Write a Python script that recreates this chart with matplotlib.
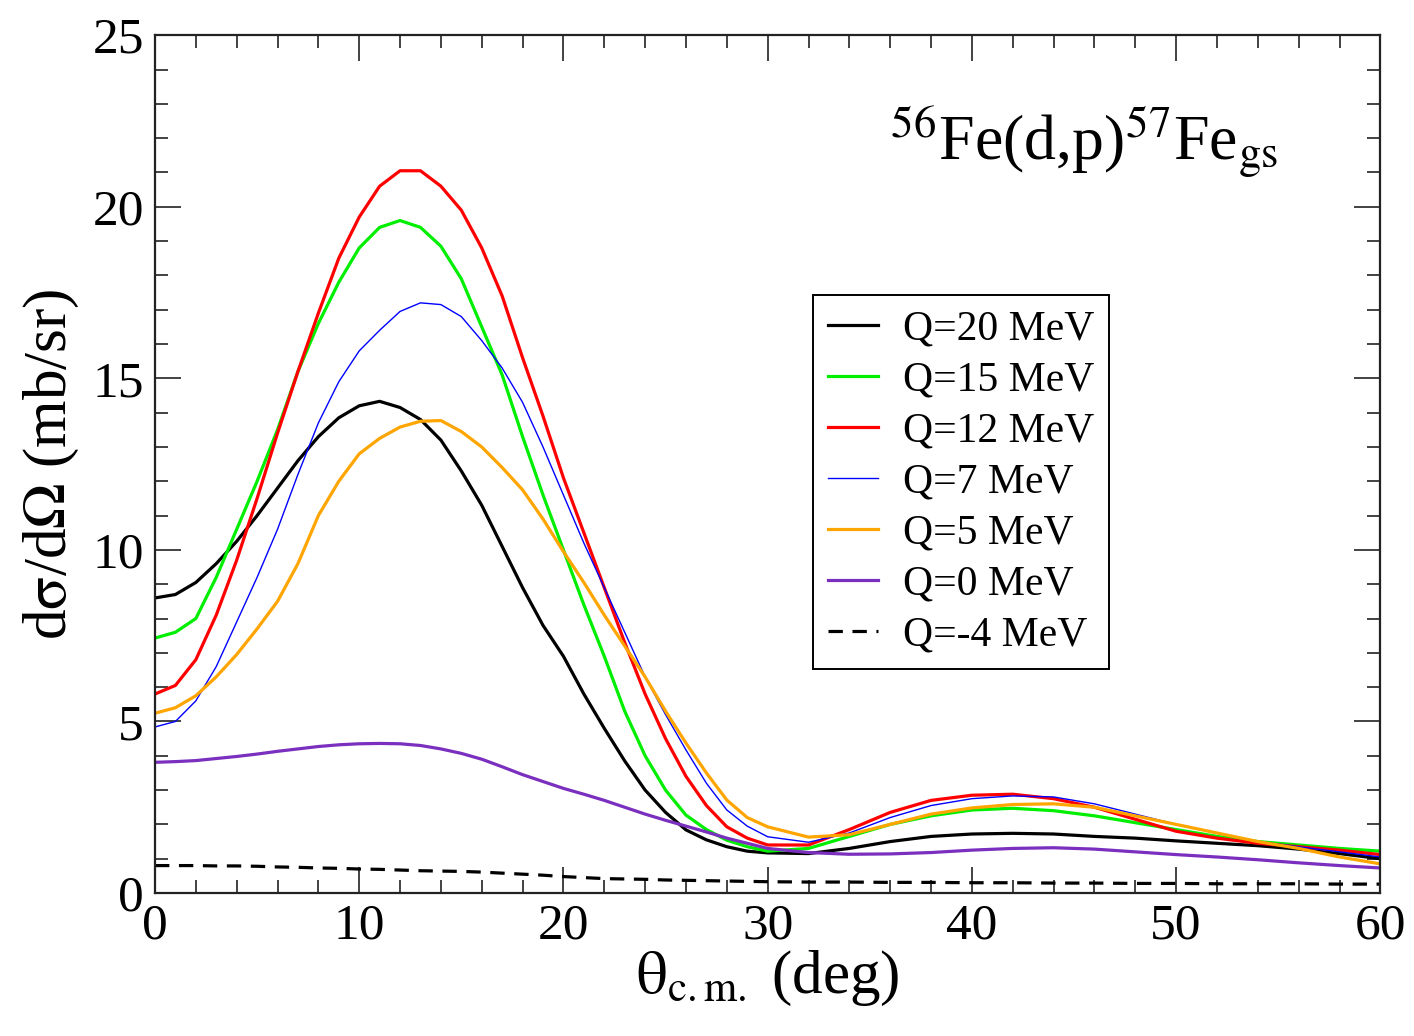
import matplotlib
matplotlib.use("Agg")
import matplotlib.pyplot as plt
from matplotlib.ticker import MultipleLocator

plt.rcParams['font.family'] = ['Liberation Serif', 'DejaVu Serif']
plt.rcParams['mathtext.fontset'] = 'stix'

# angles (deg)
theta = [0, 1, 2, 3, 4, 5, 6, 7, 8, 9, 10, 11, 12, 13, 14, 15, 16, 17, 18, 19, 20,
         21, 22, 23, 24, 25, 26, 27, 28, 29, 30, 32, 34, 36, 38, 40, 42, 44, 46, 48,
         50, 52, 54, 56, 58, 60]

q20 = [8.6, 8.7, 9.05, 9.6, 10.25, 11.0, 11.8, 12.6, 13.3, 13.85, 14.2, 14.33, 14.15,
       13.8, 13.2, 12.3, 11.3, 10.1, 8.9, 7.8, 6.9, 5.8, 4.8, 3.85, 3.0, 2.35, 1.84,
       1.55, 1.35, 1.22, 1.17, 1.15, 1.3, 1.5, 1.65, 1.72, 1.74, 1.72, 1.65, 1.6, 1.52,
       1.45, 1.38, 1.28, 1.15, 1.0]
q15 = [7.43, 7.6, 8.0, 9.2, 10.6, 12.0, 13.5, 15.2, 16.6, 17.8, 18.8, 19.4, 19.6, 19.4,
       18.85, 17.9, 16.5, 15.1, 13.3, 11.6, 10.0, 8.4, 6.9, 5.3, 4.0, 3.0, 2.27, 1.85,
       1.54, 1.35, 1.22, 1.3, 1.65, 2.0, 2.25, 2.42, 2.47, 2.4, 2.25, 2.05, 1.85, 1.65,
       1.5, 1.4, 1.3, 1.22]
q12 = [5.8, 6.05, 6.8, 8.1, 9.7, 11.5, 13.4, 15.2, 16.9, 18.5, 19.7, 20.6, 21.05, 21.05,
       20.6, 19.9, 18.8, 17.4, 15.6, 13.9, 12.1, 10.5, 8.9, 7.3, 5.8, 4.5, 3.4, 2.55,
       1.93, 1.6, 1.4, 1.4, 1.85, 2.35, 2.7, 2.85, 2.88, 2.75, 2.5, 2.15, 1.8, 1.6,
       1.45, 1.35, 1.25, 1.12]
q7 = [4.84, 5.0, 5.6, 6.6, 7.9, 9.2, 10.6, 12.2, 13.7, 14.9, 15.8, 16.4, 16.95, 17.2,
      17.15, 16.8, 16.1, 15.3, 14.3, 13.0, 11.6, 10.2, 8.9, 7.6, 6.3, 5.2, 4.17, 3.2,
      2.42, 1.95, 1.64, 1.48, 1.75, 2.2, 2.55, 2.75, 2.83, 2.8, 2.6, 2.3, 2.0, 1.75,
      1.5, 1.35, 1.2, 1.05]
q5 = [5.24, 5.4, 5.75, 6.3, 6.95, 7.7, 8.5, 9.6, 11.0, 12.0, 12.8, 13.25, 13.58, 13.75,
      13.77, 13.45, 13.0, 12.4, 11.75, 10.9, 9.95, 9.05, 8.1, 7.2, 6.3, 5.3, 4.37, 3.5,
      2.71, 2.2, 1.93, 1.63, 1.7, 2.0, 2.3, 2.48, 2.58, 2.6, 2.5, 2.25, 2.0, 1.75,
      1.5, 1.3, 1.05, 0.85]
q0 = [3.81, 3.83, 3.86, 3.92, 3.98, 4.05, 4.13, 4.2, 4.27, 4.32, 4.35, 4.36, 4.35, 4.3,
      4.2, 4.07, 3.9, 3.68, 3.45, 3.25, 3.05, 2.88, 2.7, 2.5, 2.3, 2.12, 1.95, 1.78,
      1.6, 1.45, 1.3, 1.18, 1.13, 1.14, 1.18, 1.25, 1.3, 1.32, 1.28, 1.2, 1.12, 1.05,
      0.97, 0.88, 0.8, 0.73]
qm4 = [0.80, 0.80, 0.80, 0.79, 0.79, 0.78, 0.76, 0.75, 0.73, 0.72, 0.70, 0.69, 0.67,
       0.65, 0.64, 0.63, 0.61, 0.58, 0.55, 0.52, 0.48, 0.45, 0.42, 0.41, 0.40, 0.38,
       0.37, 0.36, 0.35, 0.34, 0.33, 0.32, 0.32, 0.31, 0.31, 0.30, 0.30, 0.29, 0.29,
       0.28, 0.28, 0.27, 0.27, 0.27, 0.26, 0.26]

labels = ["Q=20 MeV", "Q=15 MeV", "Q=12 MeV", "Q=7 MeV", "Q=5 MeV", "Q=0 MeV", "Q=-4 MeV"]
colors = ["black", "#00ee00", "#ff0000", "#0000ff", "#ffa500", "#7b2fbf", "black"]

fig = plt.figure(figsize=(14.14, 10.36), dpi=100)
ax = fig.add_axes([0.1096, 0.138, 0.8666, 0.828])

series = [q20, q15, q12, q7, q5, q0, qm4]
for i, (ys, lab, c) in enumerate(zip(series, labels, colors)):
    lw = 1.0 if i == 3 else 2.3
    ls = (0, (4.5, 3)) if i == 6 else '-'
    ax.plot(theta, ys, color=c, lw=lw, ls=ls, label=lab)

ax.set_xlim(0, 60)
ax.set_ylim(0, 25)
ax.xaxis.set_major_locator(MultipleLocator(10))
ax.xaxis.set_minor_locator(MultipleLocator(2))
ax.yaxis.set_major_locator(MultipleLocator(5))
ax.yaxis.set_minor_locator(MultipleLocator(1))
ax.tick_params(which='both', direction='in', top=True, right=True, width=1.2,
               labelsize=37, colors='#222222')
ax.tick_params(axis='both', labelcolor='black')
ax.tick_params(which='major', length=19)
ax.tick_params(which='minor', length=9.5)
ax.tick_params(axis='x', pad=7)
ax.tick_params(axis='y', pad=8)
for s in ax.spines.values():
    s.set_linewidth(1.6)
    s.set_color('#222222')

ax.set_xlabel(r"$\mathrm{\theta}_{\mathrm{c.m.}}$ (deg)", fontsize=44, labelpad=0)
ax.set_ylabel(r"d$\mathrm{\sigma}$/d$\mathrm{\Omega}$ (mb/sr)", fontsize=44, labelpad=8)

ax.text(0.6, 0.875, r"$^{56}$Fe(d,p)$^{57}$Fe$_{\rm gs}$", transform=ax.transAxes,
        fontsize=46, ha='left', va='center')

leg = ax.legend(loc='upper left', bbox_to_anchor=(0.537, 0.697), fontsize=30,
                frameon=True, fancybox=False, edgecolor='black', framealpha=1,
                handlelength=1.2, handletextpad=0.6, labelspacing=0.3,
                borderpad=0.35, borderaxespad=0)
leg.get_frame().set_linewidth(1.4)

fig.savefig("out.png", dpi=100)
